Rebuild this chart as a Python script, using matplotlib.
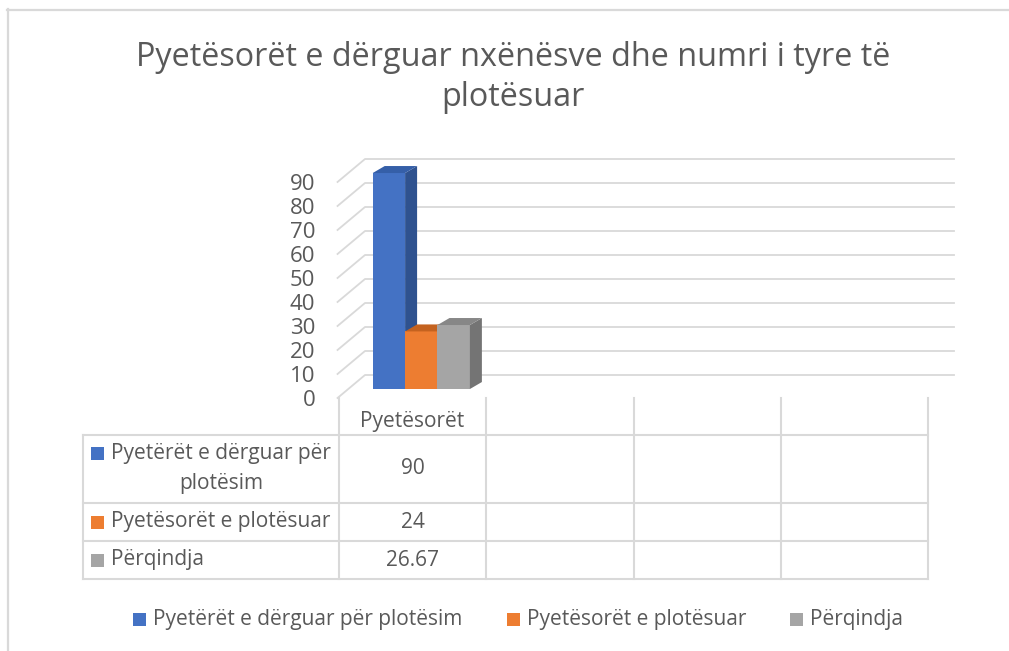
import numpy as np
import matplotlib.pyplot as plt
from matplotlib.patches import Polygon, Rectangle

plt.rcParams['font.family'] = ['Open Sans', 'DejaVu Sans']

# data
title_lines = ["Pyetësorët e dërguar nxënësve dhe numri i tyre të", "plotësuar"]
category = "Pyetësorët"
n_cols = 4
series = ["Pyetërët e dërguar për plotësim", "Pyetësorët e plotësuar", "Përqindja"]
values = [90, 24, 26.67]
value_labels = ["90", "24", "26.67"]
yticks = list(range(0, 100, 10))

colors = ["#4472C4", "#ED7D31", "#A5A5A5"]
side_colors = ["#2F528F", "#B35C22", "#747474"]
top_colors = ["#355FA8", "#C4621F", "#878787"]
txt = "#595959"
grid = "#D9D9D9"
fs = 15
fs_title = 23.3

W, H = 1009, 651
fig = plt.figure(figsize=(W / 100, H / 100), dpi=100)

# background axes in pixel units (frame, title, table, legend)
bg = fig.add_axes([0, 0, 1, 1])
bg.set_xlim(0, W)
bg.set_ylim(H, 0)
bg.axis("off")
bg.plot([7, W], [9.5, 9.5], color=grid, lw=1.6)
bg.plot([7.5, 7.5], [9, H], color=grid, lw=1.6)

bg.text(513, 66, title_lines[0], ha="center", va="baseline", fontsize=fs_title, color=txt)
bg.text(513, 106, title_lines[1], ha="center", va="baseline", fontsize=fs_title, color=txt)

# chart front plane
x_left, x_right = 339, 928
y_zero, y_top = 398, 182
ax = fig.add_axes([x_left / W, (H - y_zero) / H, (x_right - x_left) / W, (y_zero - y_top) / H])
ax.set_xlim(0, n_cols)
ax.set_ylim(0, 90)
for s in ax.spines.values():
    s.set_visible(False)
ax.set_xticks([])
ax.set_yticks(yticks)
ax.set_yticklabels([str(v) for v in yticks])
ax.tick_params(axis="y", length=0, pad=17, labelsize=16, labelcolor=txt)
ax.patch.set_alpha(0)

col_px = (x_right - x_left) / n_cols
px_per_unit = (y_zero - y_top) / 90
DX = 26 / col_px
DY = 23 / px_per_unit

for v in yticks:
    ax.plot([-0.01, DX, n_cols + DX], [v, v + DY, v + DY], color=grid, lw=1.3,
            clip_on=False, zorder=1)

# 3d-looking bars
off_x, off_y = 0.39 * DX, 0.39 * DY
ddx, ddy = 12 / col_px, 7 / px_per_unit
x0, w = 0.16, 0.22
for i, val in enumerate(values):
    x = x0 + i * w + off_x
    y0, y1 = off_y, off_y + val
    z = 3 + i * 3
    ax.add_patch(Rectangle((x, y0), w, val, facecolor=colors[i], edgecolor="none",
                           clip_on=False, zorder=z))
    ax.add_patch(Polygon([(x + w, y0), (x + w + ddx, y0 + ddy), (x + w + ddx, y1 + ddy), (x + w, y1)],
                         facecolor=side_colors[i], edgecolor="none", clip_on=False, zorder=z + 1))
    ax.add_patch(Polygon([(x, y1), (x + ddx, y1 + ddy), (x + w + ddx, y1 + ddy), (x + w, y1)],
                         facecolor=top_colors[i], edgecolor="none", clip_on=False, zorder=z + 2))

# data table
col_edges = [x_left + k * col_px for k in range(n_cols + 1)]
row_edges = [435, 503, 541, 579]
tab_left = 83
for xe in col_edges:
    bg.plot([xe, xe], [398, row_edges[-1]], color=grid, lw=1.5)
bg.plot([tab_left, tab_left], [row_edges[0], row_edges[-1]], color=grid, lw=1.5)
for ye in row_edges:
    bg.plot([tab_left, col_edges[-1]], [ye, ye], color=grid, lw=1.5)

cx = (col_edges[0] + col_edges[1]) / 2
bg.text(cx, 422, category, ha="center", va="center", fontsize=fs, color=txt)

row_mid = [(row_edges[k] + row_edges[k + 1]) / 2 for k in range(3)]
for i, name in enumerate(series):
    ym = row_mid[i]
    if i == 0:
        bg.add_patch(Rectangle((91, 447), 13, 13, facecolor=colors[i], edgecolor="none"))
        bg.text(111, 454, "Pyetërët e dërguar për", ha="left", va="center", fontsize=fs, color=txt)
        bg.text(221, 484, "plotësim", ha="center", va="center", fontsize=fs, color=txt)
    else:
        bg.add_patch(Rectangle((91, ym - 6.5), 13, 13, facecolor=colors[i], edgecolor="none"))
        bg.text(111, ym, name, ha="left", va="center", fontsize=fs, color=txt)
    bg.text(cx, ym, value_labels[i], ha="center", va="center", fontsize=fs, color=txt)

# legend
leg_x = [133, 507, 790]
for i, name in enumerate(series):
    bg.add_patch(Rectangle((leg_x[i], 613), 13, 13, facecolor=colors[i], edgecolor="none"))
    bg.text(leg_x[i] + 20, 620, name, ha="left", va="center", fontsize=fs, color=txt)

fig.savefig("out.png", dpi=100)
